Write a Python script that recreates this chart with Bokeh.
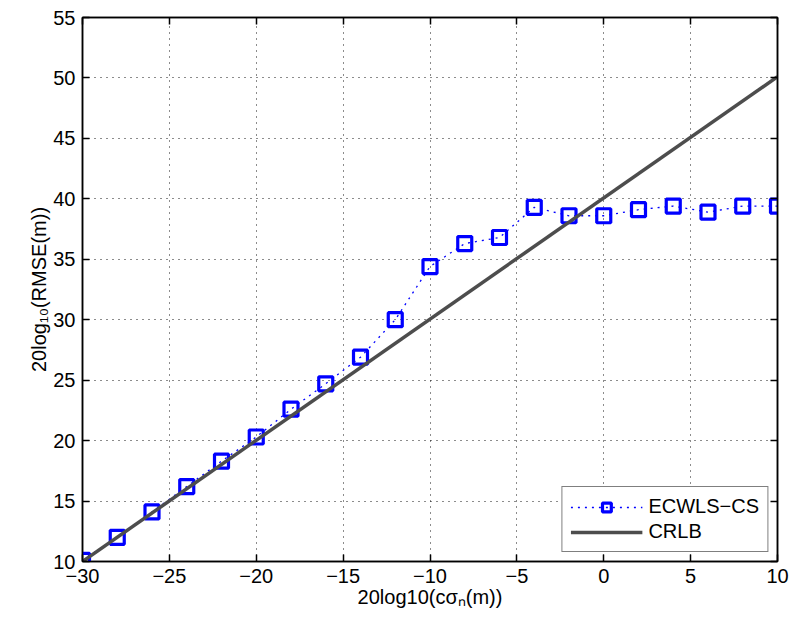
from bokeh.plotting import figure
from bokeh.models import LinearAxis, Range1d, FixedTicker, Legend, LegendItem
from bokeh.embed import file_html
from bokeh.resources import INLINE

x_vals = [-30, -28, -26, -24, -22, -20, -18, -16, -14, -12, -10, -8, -6, -4, -2, 0, 2, 4, 6, 8, 10]
ecwls_cs = [10.1, 12.0, 14.1, 16.2, 18.3, 20.3, 22.6, 24.7, 26.9, 30.0, 34.4, 36.3, 36.8, 39.3,
            38.6, 38.6, 39.1, 39.4, 38.9, 39.4, 39.4]
crlb_x = [-30, 10]
crlb = [10.0, 50.1]
x_ticks = [-30, -25, -20, -15, -10, -5, 0, 5, 10]
y_ticks = [10, 15, 20, 25, 30, 35, 40, 45, 50, 55]

FONT = "Liberation Sans"
FS = "20px"

p = figure(width=791, height=628, output_backend="svg", toolbar_location=None,
           x_range=Range1d(-30, 10), y_range=Range1d(10, 55),
           min_border_left=82, min_border_right=14, min_border_top=17, min_border_bottom=67,
           x_axis_label="20log10(cσₙ(m))", y_axis_label="20log₁₀(RMSE(m))")
p.background_fill_color = "white"
p.border_fill_color = "white"
p.outline_line_color = "black"
p.outline_line_width = 1.5

for ax, ticks in ((p.xaxis[0], x_ticks), (p.yaxis[0], y_ticks)):
    ax.ticker = FixedTicker(ticks=ticks)
    ax.major_tick_in = 7
    ax.major_tick_out = 0
    ax.minor_tick_line_color = None
    ax.axis_line_color = "black"
    ax.axis_line_width = 1.5
    ax.major_tick_line_width = 1.5
    ax.major_label_text_font = FONT
    ax.major_label_text_font_size = FS
    ax.major_label_text_color = "black"
    ax.axis_label_text_font = FONT
    ax.axis_label_text_font_size = FS
    ax.axis_label_text_font_style = "normal"
    ax.axis_label_text_color = "black"
p.xaxis[0].major_label_standoff = 7
p.yaxis[0].major_label_standoff = 7
p.xaxis[0].axis_label_standoff = 0
p.yaxis[0].axis_label_standoff = 0

top = LinearAxis(ticker=FixedTicker(ticks=x_ticks),
                 major_label_overrides={t: "" for t in x_ticks},
                 major_tick_in=7, major_tick_out=0, minor_tick_line_color=None,
                 axis_line_color="black", axis_line_width=1.5, major_tick_line_width=1.5)
right = LinearAxis(ticker=FixedTicker(ticks=y_ticks),
                   major_label_overrides={t: "" for t in y_ticks},
                   major_tick_in=7, major_tick_out=0, minor_tick_line_color=None,
                   axis_line_color="black", axis_line_width=1.5, major_tick_line_width=1.5)
p.add_layout(top, "above")
p.add_layout(right, "right")

p.xgrid[0].ticker = FixedTicker(ticks=x_ticks)
p.ygrid[0].ticker = FixedTicker(ticks=y_ticks)
for g in (p.xgrid[0], p.ygrid[0]):
    g.grid_line_color = "black"
    g.grid_line_dash = "1 5"
    g.grid_line_width = 1
    g.grid_line_alpha = 0.9

l1 = p.line(x_vals, ecwls_cs, line_color="blue", line_width=1.3, line_dash="2 5")
s1 = p.scatter(x_vals, ecwls_cs, marker="square", size=14, line_color="blue",
               line_width=3.2, fill_alpha=0)
l2 = p.line(crlb_x, crlb, line_color="#4d4d4d", line_width=3.5)

legend = Legend(items=[LegendItem(label="ECWLS−CS", renderers=[l1, s1]),
                       LegendItem(label="CRLB", renderers=[l2])],
                location="bottom_right")
legend.label_text_font = FONT
legend.label_text_font_size = FS
legend.label_text_color = "black"
legend.border_line_color = "black"
legend.border_line_width = 1.5
legend.glyph_width = 72
legend.glyph_height = 22
legend.label_height = 22
legend.spacing = 2
legend.padding = 8
legend.margin = 9
legend.label_standoff = 6
legend.background_fill_alpha = 1
p.add_layout(legend, "center")

open("out.html", "w").write(file_html(p, INLINE))
